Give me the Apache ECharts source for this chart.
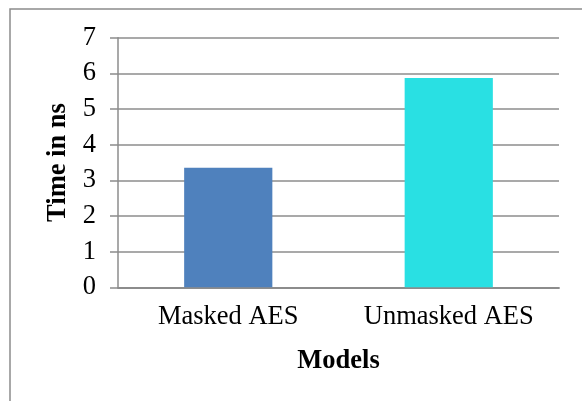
<!DOCTYPE html>
<html>
<head>
<meta charset="utf-8">
<script src="https://cdn.jsdelivr.net/npm/echarts@6/dist/echarts.min.js"></script>
<style>
  html, body { margin: 0; padding: 0; background: #ffffff; }
  #chart { width: 582px; height: 401px; }
</style>
</head>
<body>
<div id="chart"></div>
<script>
// Execution time per model
const categories = ['Masked AES', 'Unmasked AES'];
const timeValues = [3.35, 5.87];
const barColors = ['#4f81bd', '#29e0e3'];
const yTicks = { min: 0, max: 7, interval: 1 };

const font = 'Liberation Serif, Times New Roman, serif';
const gridColor = '#8c8c8c';

const chart = echarts.init(document.getElementById('chart'));
chart.setOption({
  animation: false,
  backgroundColor: '#ffffff',
  graphic: [{
    type: 'rect',
    shape: { x: 10, y: 9, width: 800, height: 600 },
    style: { fill: 'none', stroke: gridColor, lineWidth: 1.5 },
    silent: true
  }],
  grid: { left: 118, right: 23, top: 37.7, bottom: 113.7, containLabel: false },
  xAxis: {
    type: 'category',
    data: categories,
    name: 'Models',
    nameLocation: 'middle',
    nameGap: 60,
    nameTextStyle: { fontFamily: font, fontSize: 26.5, fontWeight: 'bold', color: '#000' },
    axisLine: { lineStyle: { color: gridColor, width: 1.8 } },
    axisTick: { show: false },
    axisLabel: { fontFamily: font, fontSize: 26.5, color: '#000', margin: 16, interval: 0, hideOverlap: false }
  },
  yAxis: {
    type: 'value',
    min: yTicks.min,
    max: yTicks.max,
    interval: yTicks.interval,
    name: 'Time in ns',
    nameLocation: 'middle',
    nameGap: 46,
    nameRotate: 90,
    nameTextStyle: { fontFamily: font, fontSize: 26.5, fontWeight: 'bold', color: '#000' },
    axisLine: { show: true, lineStyle: { color: gridColor, width: 1.5 } },
    axisTick: { show: true, length: 8, lineStyle: { color: gridColor, width: 1.5 } },
    axisLabel: { fontFamily: font, fontSize: 26.5, color: '#000', margin: 22 },
    splitLine: { show: true, lineStyle: { color: gridColor, width: 1.5 } }
  },
  series: [{
    type: 'bar',
    barWidth: '40%',
    data: timeValues.map((v, i) => ({ value: v, itemStyle: { color: barColors[i] } }))
  }]
});
</script>
</body>
</html>
